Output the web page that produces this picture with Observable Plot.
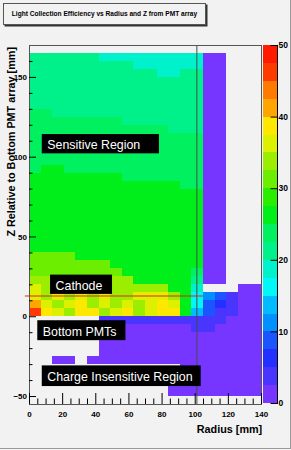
<!DOCTYPE html>
<html>
<head>
<meta charset="utf-8">
<script src="https://cdn.jsdelivr.net/npm/d3@7"></script>
<script src="https://cdn.jsdelivr.net/npm/@observablehq/plot@0.6"></script>
<style>
html, body { margin: 0; padding: 0; background: #f2f2f2; }
#wrap { position: relative; width: 291px; height: 450px; overflow: hidden; background: #f2f2f2;
  font-family: "Liberation Sans", Arial, Helvetica, sans-serif; }
#main, #bar { position: absolute; top: 0; }
#main { left: 0; }
#bar { left: 263px; }
#title { position: absolute; left: 3px; top: 3px; width: 203px; height: 22px; box-sizing: border-box;
  border: 1px solid #555; box-shadow: 1.5px 1.5px 0 #333; background: #f2f2f2;
  font-weight: bold; font-size: 6.6px; line-height: 20px; text-align: center; color: #000; white-space: nowrap; }
#edge { position: absolute; left: 0; top: 0; width: 291px; height: 449px; box-sizing: border-box;
  border-right: 1px solid #9a9a9a; border-bottom: 1px solid #9a9a9a; pointer-events: none; }
</style>
</head>
<body>
<div id="wrap">
  <div id="main"></div>
  <div id="bar"></div>
  <div id="title">Light Collection Efficiency vs Radius and Z from PMT array</div>
  <div id="edge"></div>
</div>
<script>
const N = null;
// radius bin edges [mm]
const rEdges = [0, 7, 14, 21, 28, 35, 42, 49, 56, 63, 70, 77, 84, 91, 98, 105, 112, 119, 126, 133, 140];
// z bin edges [mm], ascending
const zEdges = [-50, -45, -40, -35, -30, -25, -20, -15, -10, -5, 0, 5, 10, 15, 20, 25, 30, 35, 40, 45, 50,
  55, 60, 65, 70, 75, 80, 85, 90, 95, 100, 105, 110, 115, 120, 125, 130, 135, 140, 145, 150, 155, 160, 165];
// light collection efficiency [%], one row per z bin, top row (z 160-165) first
const efficiency = [
  [21,21,21,21,21,21,19,19,19,19,19,19,19,19,19,1,1,N,N,N], // 160
  [21,21,21,21,21,21,21,21,21,19,19,19,19,19,19,1,1,N,N,N], // 155
  [21,21,21,21,21,21,21,21,21,21,21,19,19,21,21,1,1,N,N,N], // 150
  [21,21,21,21,21,21,21,21,21,21,21,21,21,21,21,1,1,N,N,N], // 145
  [21,21,21,21,21,21,21,21,21,21,21,21,21,21,21,1,1,N,N,N], // 140
  [21,21,21,21,21,21,21,21,21,21,21,21,21,21,21,1,1,N,N,N], // 135
  [21,21,21,21,21,21,21,21,21,21,21,21,21,21,21,1,1,N,N,N], // 130
  [24,24,21,21,21,21,21,21,21,21,21,21,21,21,21,1,1,N,N,N], // 125
  [24,24,24,24,24,24,24,24,21,21,21,21,21,21,21,1,1,N,N,N], // 120
  [24,24,24,24,24,24,24,24,24,24,24,24,21,21,21,1,1,N,N,N], // 115
  [24,24,24,24,24,24,24,24,24,24,24,24,24,24,24,1,1,N,N,N], // 110
  [24,24,24,24,24,24,24,24,24,24,24,24,24,24,24,1,1,N,N,N], // 105
  [24,24,24,24,24,24,24,24,24,24,24,24,24,24,24,1,1,N,N,N], // 100
  [24,24,24,24,24,24,24,24,24,24,24,24,24,24,24,1,1,N,N,N], // 95
  [24,26,26,24,24,24,24,24,24,24,24,24,24,24,24,1,1,N,N,N], // 90
  [26,26,26,26,26,26,26,26,24,24,24,24,24,24,24,1,1,N,N,N], // 85
  [26,26,26,26,26,26,26,26,26,26,26,26,26,24,24,1,1,N,N,N], // 80
  [26,26,26,26,26,26,26,26,26,26,26,26,26,26,26,1,1,N,N,N], // 75
  [26,26,26,26,26,26,26,26,26,26,26,26,26,26,26,1,1,N,N,N], // 70
  [26,26,26,26,26,26,26,26,26,26,26,26,26,26,26,1,1,N,N,N], // 65
  [26,26,26,26,26,26,26,26,26,26,26,26,26,26,26,1,1,N,N,N], // 60
  [26,26,26,26,26,26,26,26,26,26,26,26,26,26,26,1,1,N,N,N], // 55
  [26,26,26,26,26,26,26,26,26,26,26,26,26,26,26,1,1,N,N,N], // 50
  [26,26,26,26,26,26,26,26,26,26,26,26,26,26,26,1,1,N,N,N], // 45
  [26,26,26,26,26,26,26,26,26,26,26,26,26,26,26,1,1,N,N,N], // 40
  [31,31,31,31,26,26,26,26,26,26,26,26,26,26,26,1,1,N,N,N], // 35
  [31,31,31,31,31,31,31,26,26,26,26,26,26,26,26,1,1,N,N,N], // 30
  [31,31,31,31,31,31,31,31,26,26,26,26,26,26,24,1,1,N,N,N], // 25
  [34,34,34,34,34,34,34,34,34,26,26,26,26,26,21,1,1,N,N,N], // 20
  [36,34,36,34,36,34,34,34,34,34,34,34,26,26,19,N,N,N,1,1], // 15
  [36,34,36,34,36,34,36,34,34,36,36,36,34,26,16,11,9,4,1,1], // 10
  [41,36,34,36,39,34,36,34,36,34,36,39,36,26,16,9,6,4,1,1], // 5
  [47,39,36,34,39,39,34,36,39,34,36,39,39,26,14,9,4,4,1,1], // 0
  [N,N,N,N,N,N,4,4,4,4,4,4,4,4,4,4,4,1,1,1], // -5
  [N,N,N,N,N,N,1,1,1,1,1,1,1,1,4,4,1,1,1,1], // -10
  [N,N,N,N,N,N,1,1,1,1,1,1,1,1,1,1,1,1,1,1], // -15
  [N,N,N,N,N,N,1,1,1,1,1,1,1,1,1,1,1,1,1,1], // -20
  [N,N,N,N,N,N,1,1,1,1,1,1,1,1,1,1,1,1,1,1], // -25
  [N,N,1,1,N,1,1,1,1,1,1,1,1,1,1,1,1,1,1,1], // -30
  [N,N,N,N,N,N,N,N,N,N,N,N,N,1,1,1,1,1,1,1], // -35
  [N,N,N,N,N,N,N,N,N,N,N,N,1,1,1,1,1,1,1,1], // -40
  [N,N,N,N,N,N,N,N,N,N,N,N,1,1,1,1,1,1,1,1], // -45
  [N,N,N,N,N,N,N,N,N,N,N,N,1,1,1,1,1,1,1,1]  // -50
];
// colour palette: 20 contour levels 0..50
const colorEdges = [0, 2.5, 5, 7.5, 10, 12.5, 15, 17.5, 20, 22.5, 25, 27.5, 30, 32.5, 35, 37.5, 40, 42.5, 45, 47.5, 50];
const thresholds = [2.5, 5, 7.5, 10, 12.5, 15, 17.5, 20, 22.5, 25, 27.5, 30, 32.5, 35, 37.5, 40, 42.5, 45, 47.5];
const palette = ["#7636ff", "#4a35ff", "#2430ff", "#1a55ff", "#0090ff", "#00bbff", "#00f8f8", "#00f2cc",
  "#00f08a", "#00f060", "#00ee1a", "#2aee00", "#6cee00", "#9cee00", "#dcf000", "#ffe800",
  "#ffa500", "#ff7a00", "#ff3a00", "#ff1a00"];
// axis ticks
const rMajor = [0, 20, 40, 60, 80, 100, 120, 140];
const rMinor = [5, 10, 15, 25, 30, 35, 45, 50, 55, 65, 70, 75, 85, 90, 95, 105, 110, 115, 125, 130, 135];
const zMajor = [-50, 0, 50, 100, 150];
const zMinor = [-40, -30, -20, -10, 10, 20, 30, 40, 60, 70, 80, 90, 110, 120, 130, 140, 160];
const barTicks = [0, 10, 20, 30, 40, 50];
// annotations
const cathodeLine = [{z: 13, r1: -2.5, r2: 105}];
const fieldLine = [101];
const regionLabels = [
  {text: "Sensitive Region", r1: 7.7, r2: 78.4, z1: 102.1, z2: 114.2},
  {text: "Cathode", r1: 12.7, r2: 50.1, z1: 14.0, z2: 26.1},
  {text: "Bottom PMTs", r1: 5.0, r2: 58.2, z1: -15.0, z2: -2.5},
  {text: "Charge Insensitive Region", r1: 7.7, r2: 103.6, z1: -43.75, z2: -30.8}
];
const xTitle = "Radius [mm]";
const yTitle = "Z Relative to Bottom PMT array [mm]";

// build cell table
const cells = [];
efficiency.forEach((row, i) => {
  const k = zEdges.length - 2 - i;
  row.forEach((v, j) => {
    if (v != null) cells.push({r1: rEdges[j], r2: rEdges[j + 1], z1: zEdges[k], z2: zEdges[k + 1], v});
  });
});
const bands = palette.map((c, i) => ({key: "bar", lo: colorEdges[i], hi: colorEdges[i + 1], col: c}));
const font = "'Liberation Sans', Arial, Helvetica, sans-serif";

const main = Plot.plot({
  width: 291, height: 450,
  marginLeft: 29, marginRight: 30, marginTop: 45, marginBottom: 46,
  style: {background: "transparent", fontFamily: font, overflow: "visible", color: "#000"},
  x: {domain: [0, 140], axis: null},
  y: {domain: [-55, 170], axis: null},
  color: {type: "threshold", domain: thresholds, range: palette},
  marks: [
    Plot.rect(cells, {x1: "r1", x2: "r2", y1: "z1", y2: "z2", fill: "v", shapeRendering: "crispEdges"}),
    Plot.ruleX(fieldLine, {x: d => d, stroke: "#4a4a4a", strokeWidth: 1}),
    Plot.ruleY(cathodeLine, {y: "z", x1: "r1", x2: "r2", stroke: "#e8201a", strokeWidth: 1}),
    Plot.frame({stroke: "#555"}),
    Plot.tickY(zMajor, {y: d => d, insetRight: 225, stroke: "#000"}),
    Plot.tickY(zMinor, {y: d => d, insetRight: 228.5, stroke: "#000"}),
    Plot.tickX(rMajor, {x: d => d, insetTop: 348, stroke: "#000"}),
    Plot.tickX(rMinor, {x: d => d, insetTop: 353.5, stroke: "#000"}),
    Plot.axisX({ticks: rMajor, tickSize: 0, tickPadding: 7, fontSize: 8, fontWeight: "bold"}),
    Plot.axisY({ticks: zMajor, tickSize: 0, tickPadding: 2.5, fontSize: 8, fontWeight: "bold"}),
    Plot.rect(regionLabels, {x1: "r1", x2: "r2", y1: "z1", y2: "z2", fill: "#000"}),
    Plot.text(regionLabels, {x: "r1", y: d => (d.z1 + d.z2) / 2, text: "text", dx: 5, dy: 1,
      textAnchor: "start", fill: "#fff", fontSize: 12.4}),
    Plot.text([yTitle], {frameAnchor: "top-left", rotate: -90, textAnchor: "end", dx: -22.5, dy: 1.5,
      fontSize: 10.8, fontWeight: "bold", fill: "#000"}),
    Plot.text([xTitle], {frameAnchor: "bottom-right", textAnchor: "end", dx: 0.7, dy: 28.2,
      fontSize: 10.8, fontWeight: "bold", fill: "#000"})
  ]
});
document.getElementById("main").append(main);

const bar = Plot.plot({
  width: 28, height: 450,
  marginLeft: 0, marginRight: 14, marginTop: 45, marginBottom: 47,
  style: {background: "transparent", fontFamily: font, overflow: "visible", color: "#000"},
  x: {axis: null, padding: 0},
  y: {domain: [0, 50], axis: null},
  marks: [
    Plot.barY(bands, {x: "key", y1: "lo", y2: "hi", fill: "col", shapeRendering: "crispEdges"}),
    Plot.frame({anchor: "right", stroke: "#000"}),
    Plot.tickY(barTicks, {y: d => d, insetLeft: 7.5, stroke: "#000"}),
    Plot.axisY({anchor: "right", ticks: barTicks, tickSize: 0, tickPadding: 1, fontSize: 8.5, fontWeight: "bold"})
  ]
});
document.getElementById("bar").append(bar);
</script>
</body>
</html>
